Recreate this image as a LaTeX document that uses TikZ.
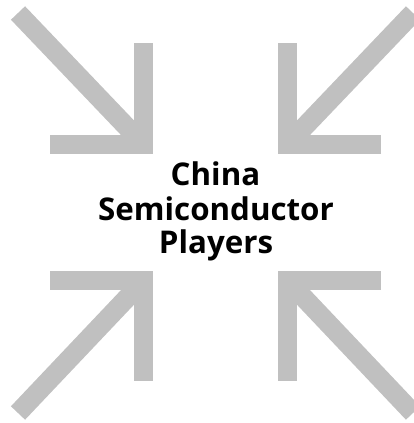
\documentclass[tikz,border=0pt]{standalone}
\usepackage{fontspec}
\setmainfont{Open Sans}
\begin{document}
\begin{tikzpicture}[x=1pt,y=-1pt,
  arr/.style={draw=arrgray,line width=19.5pt,line cap=butt,line join=miter},
  lbl/.style={font=\bfseries\fontsize{31.3}{34}\selectfont,text=black,inner sep=0pt,anchor=base}]
\definecolor{arrgray}{HTML}{C0C0C0}
\useasboundingbox (0,0) rectangle (414,423);
\clip (0,0) rectangle (414,423);
% top-left
\coordinate (tl0) at (18,13);
\coordinate (tl) at (143.5,144.5);
\draw[arr] (tl0) -- (tl);
\draw[arr] (50,144.5) -- (tl) -- (143.5,43);
% top-right
\coordinate (tr0) at (413,13);
\coordinate (tr) at (287.5,144.5);
\draw[arr] (tr0) -- (tr);
\draw[arr] (381,144.5) -- (tr) -- (287.5,43);
% bottom-left
\coordinate (bl0) at (18,413);
\coordinate (bl) at (143.5,280.5);
\draw[arr] (bl0) -- (bl);
\draw[arr] (50,280.5) -- (bl) -- (143.5,381);
% bottom-right
\coordinate (br0) at (413,413);
\coordinate (br) at (287.5,280.5);
\draw[arr] (br0) -- (br);
\draw[arr] (381,280.5) -- (br) -- (287.5,381);
\node[lbl] (l1) at (215.5,185) {China};
\node[lbl] (l2) at (216,220) {Semiconductor};
\node[lbl] (l3) at (216,253.5) {Players};
\end{tikzpicture}
\end{document}
